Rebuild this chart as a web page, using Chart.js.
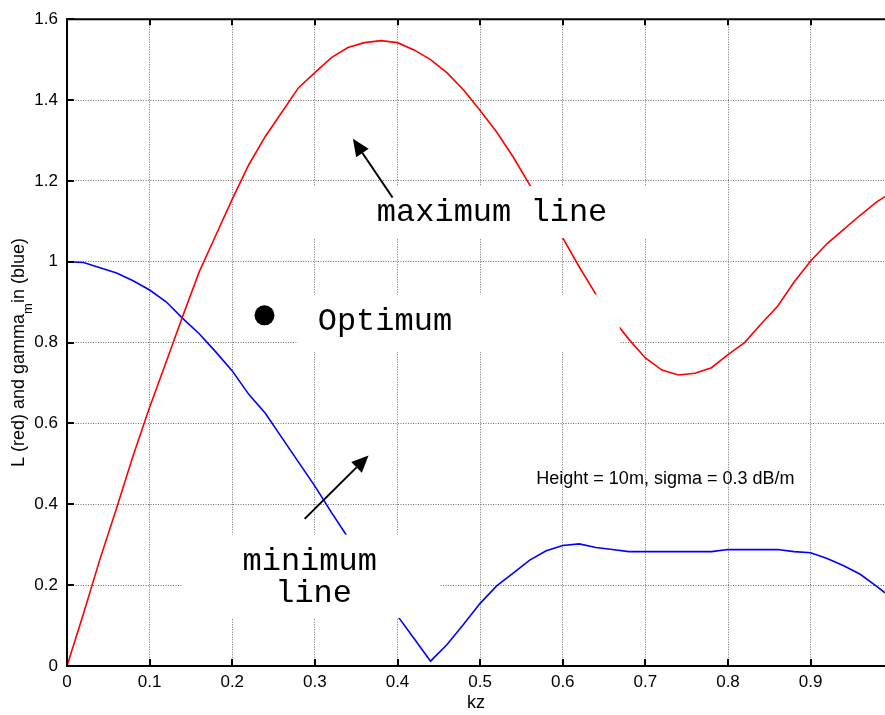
<!DOCTYPE html>
<html>
<head>
<meta charset="utf-8">
<script src="https://cdn.jsdelivr.net/npm/chart.js@4.4.0/dist/chart.umd.min.js"></script>
<style>
  html, body { margin: 0; padding: 0; background: #fff; }
</style>
</head>
<body>
<canvas id="myChart" width="885" height="715"></canvas>
<script>
// kz samples
const kz = [0, 0.02, 0.04, 0.06, 0.08, 0.10, 0.12, 0.14, 0.16, 0.18,
  0.20, 0.22, 0.24, 0.26, 0.28, 0.30, 0.32, 0.34, 0.36, 0.38,
  0.40, 0.42, 0.44, 0.46, 0.48, 0.50, 0.52, 0.54, 0.56, 0.58,
  0.60, 0.62, 0.64, 0.66, 0.68, 0.70, 0.72, 0.74, 0.76, 0.78,
  0.80, 0.82, 0.84, 0.86, 0.88, 0.90, 0.92, 0.94, 0.96, 0.98, 0.99]

// L (red)
const lRed = [0, 0.13, 0.265, 0.39, 0.52, 0.64, 0.752, 0.865, 0.975, 1.065,
  1.155, 1.24, 1.31, 1.37, 1.43, 1.468, 1.505, 1.53, 1.542, 1.547,
  1.542, 1.524, 1.50, 1.467, 1.425, 1.374, 1.321, 1.259, 1.19, 1.12,
  1.059, 0.987, 0.92, 0.86, 0.808, 0.762, 0.732, 0.72, 0.724, 0.738,
  0.77, 0.80, 0.846, 0.89, 0.95, 1.002, 1.045, 1.08, 1.115, 1.148, 1.161]

// gamma_m (blue)
const gammaBlue = [1.0, 0.998, 0.985, 0.972, 0.953, 0.93, 0.901, 0.86, 0.822, 0.777,
  0.73, 0.672, 0.625, 0.565, 0.505, 0.445, 0.38, 0.318, 0.253, 0.19,
  0.124, 0.068, 0.012, 0.053, 0.103, 0.155, 0.198, 0.23, 0.262, 0.285,
  0.298, 0.302, 0.293, 0.288, 0.283, 0.283, 0.283, 0.283, 0.283, 0.283,
  0.288, 0.288, 0.288, 0.288, 0.283, 0.28, 0.266, 0.248, 0.227, 0.197, 0.181]

const xTicks = [0, 0.1, 0.2, 0.3, 0.4, 0.5, 0.6, 0.7, 0.8, 0.9]
const yTicks = [0, 0.2, 0.4, 0.6, 0.8, 1, 1.2, 1.4, 1.6]

// annotations, in axis units
const whiteBoxes = [
  [0.297, 0.728, 1.187, 1.059],
  [0.278, 0.669, 0.919, 0.777],
  [0.1396, 0.4515, 0.325, 0.119]
]
const labels = [
  { text: 'maximum line', x: 0.375, y: 1.1006 },
  { text: 'Optimum', x: 0.3034, y: 0.8307 },
  { text: 'minimum', x: 0.2124, y: 0.237 },
  { text: 'line', x: 0.252, y: 0.158 }
]
const arrows = [
  [0.394, 1.159, 0.346, 1.304],
  [0.2876, 0.364, 0.365, 0.521]
]
const optimum = { x: 0.239, y: 0.8675 }
const note = { text: 'Height = 10m, sigma = 0.3 dB/m', x: 0.568, y: 0.450 }

const sans = '"Liberation Sans", Arial, sans-serif'

const overlay = {
  id: 'overlay',
  afterDatasetsDraw(chart) {
    const { ctx, scales: { x, y } } = chart
    ctx.save()
    ctx.fillStyle = '#fff'
    whiteBoxes.forEach(b => {
      const x1 = x.getPixelForValue(b[0])
      const x2 = x.getPixelForValue(b[1])
      const y1 = y.getPixelForValue(b[2])
      const y2 = y.getPixelForValue(b[3])
      ctx.fillRect(x1, y1, x2 - x1, y2 - y1)
    })

    ctx.fillStyle = '#000'
    ctx.textBaseline = 'alphabetic'
    ctx.textAlign = 'left'
    ctx.font = '32px "Liberation Mono", "Courier New", monospace'
    labels.forEach(l => {
      ctx.fillText(l.text, x.getPixelForValue(l.x), y.getPixelForValue(l.y))
    })
    ctx.font = '18px ' + sans
    ctx.fillText(note.text, x.getPixelForValue(note.x), y.getPixelForValue(note.y))

    ctx.beginPath()
    ctx.arc(x.getPixelForValue(optimum.x), y.getPixelForValue(optimum.y), 10, 0, Math.PI * 2)
    ctx.fill()

    ctx.strokeStyle = '#000'
    ctx.lineWidth = 2
    arrows.forEach(a => {
      const x0 = x.getPixelForValue(a[0]), y0 = y.getPixelForValue(a[1])
      const x1 = x.getPixelForValue(a[2]), y1 = y.getPixelForValue(a[3])
      const ang = Math.atan2(y1 - y0, x1 - x0)
      const hl = 17, hw = 7.5
      const bx = x1 - hl * Math.cos(ang), by = y1 - hl * Math.sin(ang)
      ctx.beginPath()
      ctx.moveTo(x0, y0)
      ctx.lineTo(bx, by)
      ctx.stroke()
      ctx.beginPath()
      ctx.moveTo(x1, y1)
      ctx.lineTo(bx + hw * Math.sin(ang), by - hw * Math.cos(ang))
      ctx.lineTo(bx - hw * Math.sin(ang), by + hw * Math.cos(ang))
      ctx.closePath()
      ctx.fill()
    })
    ctx.restore()
  },
  afterDraw(chart) {
    const { ctx, chartArea: area, scales: { x, y } } = chart
    ctx.save()
    ctx.strokeStyle = '#000'
    // top box edge
    ctx.lineWidth = 2
    ctx.beginPath()
    ctx.moveTo(area.left - 1, area.top)
    ctx.lineTo(area.right, area.top)
    ctx.stroke()
    // inward ticks
    ctx.lineWidth = 2
    ctx.beginPath()
    xTicks.forEach(v => {
      const px = Math.round(x.getPixelForValue(v))
      ctx.moveTo(px, area.bottom)
      ctx.lineTo(px, area.bottom - 7)
      ctx.moveTo(px, area.top)
      ctx.lineTo(px, area.top + 6)
    })
    yTicks.forEach(v => {
      const py = Math.round(y.getPixelForValue(v))
      ctx.moveTo(area.left, py)
      ctx.lineTo(area.left + 7, py)
    })
    ctx.stroke()

    // y title with subscript
    ctx.fillStyle = '#000'
    ctx.translate(24, 467)
    ctx.rotate(-Math.PI / 2)
    ctx.textBaseline = 'alphabetic'
    ctx.textAlign = 'left'
    ctx.font = '18px ' + sans
    const part1 = 'L (red) and gamma'
    ctx.fillText(part1, 0, 0)
    let off = ctx.measureText(part1).width
    ctx.font = '13px ' + sans
    ctx.fillText('m', off, 8)
    off += ctx.measureText('m').width * 0.55
    ctx.font = '18px ' + sans
    ctx.fillText(' in (blue)', off, 0)
    ctx.restore()
  }
}

const ctx = document.getElementById('myChart')

const grid = { color: '#6f6f6f', lineWidth: 1, drawTicks: false }
const border = { color: '#000', width: 2, dash: [1, 1.5] }
const tickFont = { family: sans, size: 17 }

new Chart(ctx, {
  type: 'line',
  data: {
    datasets: [
      {
        data: kz.map((v, i) => ({ x: v, y: lRed[i] })),
        borderColor: '#ff0000',
        borderWidth: 1.6,
        pointRadius: 0,
        tension: 0
      },
      {
        data: kz.map((v, i) => ({ x: v, y: gammaBlue[i] })),
        borderColor: '#0000ff',
        borderWidth: 1.6,
        pointRadius: 0,
        tension: 0
      }
    ]
  },
  options: {
    responsive: false,
    animation: false,
    layout: { padding: { top: 14, right: 0, bottom: 0, left: 0 } },
    plugins: {
      legend: { display: false },
      tooltip: { enabled: false }
    },
    scales: {
      x: {
        type: 'linear',
        min: 0,
        max: 0.99,
        afterBuildTicks: s => { s.ticks = xTicks.map(v => ({ value: v })) },
        afterFit: s => { s.height = 49 },
        grid: grid,
        border: border,
        ticks: { color: '#000', font: tickFont, padding: 6, maxRotation: 0, callback: v => String(v) },
        title: { display: true, text: 'kz', color: '#000', font: { family: sans, size: 18 }, padding: { top: 0, bottom: 1 } }
      },
      y: {
        min: 0,
        max: 1.6,
        afterBuildTicks: s => { s.ticks = yTicks.map(v => ({ value: v })) },
        afterFit: s => { s.width = 67 },
        grid: grid,
        border: border,
        ticks: { color: '#000', font: tickFont, padding: 9, callback: v => String(v) }
      }
    }
  },
  plugins: [overlay]
})
</script>
</body>
</html>
